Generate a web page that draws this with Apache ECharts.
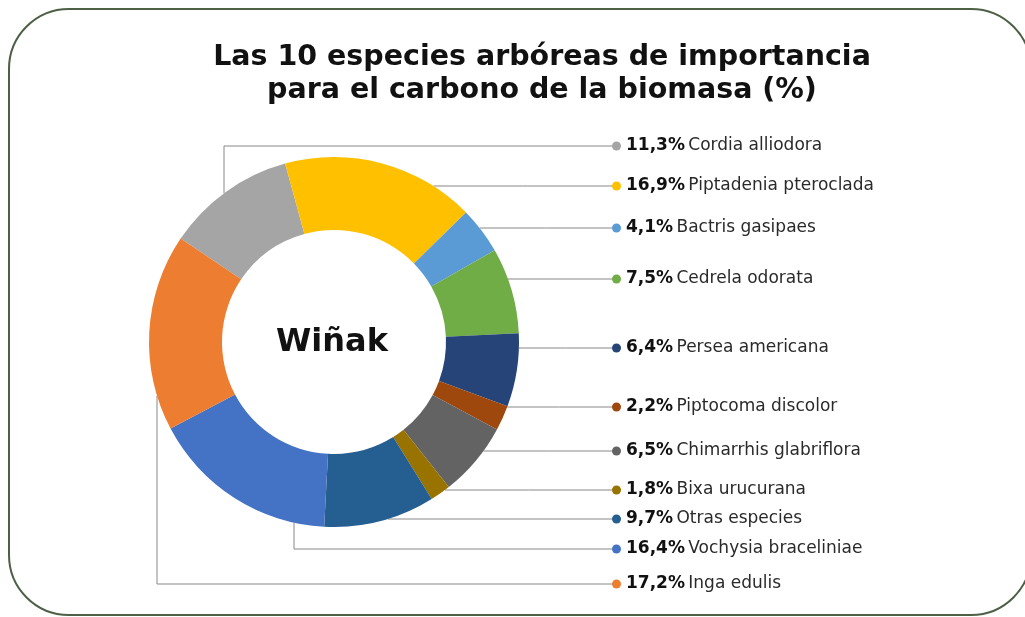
<!DOCTYPE html>
<html>
<head>
<meta charset="utf-8">
<script src="https://cdn.jsdelivr.net/npm/echarts@6/dist/echarts.min.js"></script>
<style>
  html, body { margin: 0; padding: 0; background: #fff; }
  #chart { width: 1025px; height: 617px; }
</style>
</head>
<body>
<div id="chart"></div>
<script>
const species = ['Cordia alliodora', 'Piptadenia pteroclada', 'Bactris gasipaes', 'Cedrela odorata', 'Persea americana', 'Piptocoma discolor', 'Chimarrhis glabriflora', 'Bixa urucurana', 'Otras especies', 'Vochysia braceliniae', 'Inga edulis'];
const shares = [11.3, 16.9, 4.1, 7.5, 6.4, 2.2, 6.5, 1.8, 9.7, 16.4, 17.2];
const colors = ['#a5a5a5', '#ffc000', '#5b9bd5', '#70ad47', '#264478', '#9e480e', '#636363', '#997300', '#255e91', '#4472c4', '#ed7d31'];

// label rows on the right, and where the left-hand leaders turn
const labelY = [146, 186, 228, 279, 348, 407, 451, 490, 519, 549, 584];
const elbowX = { 0: 224, 9: 294, 10: 157 };
const cx = 334, cy = 342, rOut = 185, rIn = 112, labelX = 612;

const chart = echarts.init(document.getElementById('chart'));

const fmt = v => v.toFixed(1).replace('.', ',') + '%';

chart.setOption({
  backgroundColor: '#fff',
  animation: false,
  title: {
    text: 'Las 10 especies arbóreas de importancia\npara el carbono de la biomasa (%)',
    left: 537, top: 36, textAlign: 'center',
    textStyle: { fontFamily: 'DejaVu Sans', fontWeight: 'bold', fontSize: 28.5, lineHeight: 33, color: '#111' }
  },
  graphic: [
    { type: 'rect', shape: { x: 9, y: 9, width: 1022, height: 606, r: 60 },
      style: { fill: 'none', stroke: '#4d5f45', lineWidth: 2 }, z: 10 },
    { type: 'text', x: cx - 2, y: cy + 1,
      style: { text: 'Wiñak', font: 'bold 32px "DejaVu Sans"', fill: '#111', align: 'center', verticalAlign: 'middle' } }
  ],
  series: [{
    type: 'pie',
    center: [cx, cy],
    radius: [rIn, rOut],
    startAngle: 146,
    clockwise: true,
    avoidLabelOverlap: false,
    data: species.map((n, i) => ({ name: n, value: shares[i], itemStyle: { color: colors[i] } })),
    label: {
      show: true,
      formatter: p => '{d' + p.dataIndex + '|}{s|}{v|' + fmt(p.value) + '} {n|' + p.name + '}',
      rich: Object.assign({
        s: { width: 5 },
        v: { fontFamily: 'DejaVu Sans', fontWeight: 'bold', fontSize: 17, color: '#111' },
        n: { fontFamily: 'DejaVu Sans', fontSize: 17, color: '#2a2a2a' }
      }, Object.fromEntries(colors.map((c, i) => ['d' + i,
        { width: 9, height: 9, borderRadius: 5, backgroundColor: c }])))
    },
    labelLine: { show: true, lineStyle: { color: '#888', width: 1 } },
    labelLayout: p => {
      const i = p.dataIndex, y = labelY[i];
      let pts;
      if (elbowX[i] !== undefined) {
        const ex = elbowX[i];
        const ey = cy + Math.sign(y - cy) * Math.sqrt(rOut * rOut - (ex - cx) * (ex - cx));
        pts = [[ex, ey], [ex, y], [labelX + 4, y]];
      } else {
        const dy = y - cy;
        const ex = cx + Math.sqrt(Math.max(0, rOut * rOut - dy * dy));
        pts = [[ex, y], [(ex + labelX) / 2, y], [labelX + 4, y]];
      }
      return { x: labelX, y: y, align: 'left', verticalAlign: 'middle', labelLinePoints: pts };
    }
  }]
});
</script>
</body>
</html>
